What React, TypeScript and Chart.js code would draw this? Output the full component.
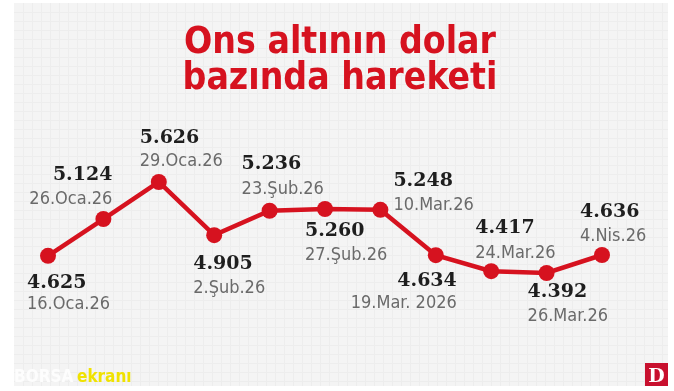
import React, { useEffect, useRef } from "react";
import { Chart, registerables } from "chart.js";

Chart.register(...registerables);

const dates = ["16.Oca.26", "26.Oca.26", "29.Oca.26", "2.Şub.26", "23.Şub.26", "27.Şub.26", "10.Mar.26", "19.Mar. 2026", "24.Mar.26", "26.Mar.26", "4.Nis.26"];
const prices = [4625, 5124, 5626, 4905, 5236, 5260, 5248, 4634, 4417, 4392, 4636];
const priceLabels = ["4.625", "5.124", "5.626", "4.905", "5.236", "5.260", "5.248", "4.634", "4.417", "4.392", "4.636"];
const titleLines = ["Ons altının dolar", "bazında hareketi"];

// label placement relative to each point: [dx, valueDy, dateDy, align]
const labelPlacement: [number, number, number, "left" | "right"][] = [
  [-21, 27, 49, "left"],
  [9, -44, -20, "right"],
  [-19, -44, -21, "left"],
  [-21, 29, 53, "left"],
  [-28, -47, -21, "left"],
  [-20, 22, 46, "left"],
  [13, -29, -5, "left"],
  [21, 26, 48, "right"],
  [-16, -43, -18, "left"],
  [-19, 19, 43, "left"],
  [-22, -43, -19, "left"],
];

const RED = "#d6121f";

const backgroundPlugin = {
  id: "bgGrid",
  beforeDraw(chart: any) {
    const ctx = chart.ctx;
    ctx.save();
    ctx.fillStyle = "#ffffff";
    ctx.fillRect(0, 0, chart.width, chart.height);
    const x0 = 14, y0 = 3, x1 = 668, y1 = 386;
    ctx.fillStyle = "#f4f4f4";
    ctx.fillRect(x0, y0, x1 - x0, y1 - y0);
    ctx.strokeStyle = "#ededed";
    ctx.lineWidth = 1;
    ctx.beginPath();
    for (let x = x0 + 9; x < x1; x += 9) {
      ctx.moveTo(x + 0.5, y0);
      ctx.lineTo(x + 0.5, y1);
    }
    for (let y = y0 + 9; y < y1; y += 9) {
      ctx.moveTo(x0, y + 0.5);
      ctx.lineTo(x1, y + 0.5);
    }
    ctx.stroke();

    // title
    ctx.fillStyle = RED;
    ctx.textAlign = "center";
    ctx.textBaseline = "alphabetic";
    ctx.font = "bold 37px 'DejaVu Sans Condensed', 'DejaVu Sans'";
    ctx.fillText(titleLines[0], 340, 53);
    ctx.fillText(titleLines[1], 340, 89);

    // logos
    ctx.textAlign = "left";
    ctx.font = "bold 17px 'DejaVu Sans Condensed', 'DejaVu Sans'";
    ctx.fillStyle = "#fdfdfd";
    ctx.fillText("BORSA", 14, 382);
    ctx.fillStyle = "#f0e200";
    ctx.fillText("ekranı", 77, 382);
    ctx.fillStyle = "#c8102e";
    ctx.fillRect(645, 363, 23, 23);
    ctx.fillStyle = "#ffffff";
    ctx.textAlign = "center";
    ctx.font = "bold 19px 'DejaVu Serif'";
    ctx.fillText("D", 656.5, 382);
    ctx.restore();
  },
};

const labelPlugin = {
  id: "pointLabels",
  afterDatasetsDraw(chart: any) {
    const ctx = chart.ctx;
    const meta = chart.getDatasetMeta(0);
    ctx.save();
    ctx.textBaseline = "middle";
    meta.data.forEach((pt: any, i: number) => {
      const [dx, vdy, ddy, align] = labelPlacement[i];
      ctx.textAlign = align;
      ctx.fillStyle = "#1e1e1e";
      ctx.font = "bold 19px 'DejaVu Serif'";
      ctx.fillText(priceLabels[i], pt.x + dx, pt.y + vdy);
      ctx.fillStyle = "#6a6a6a";
      ctx.font = "18px 'DejaVu Sans Condensed', 'DejaVu Sans'";
      ctx.fillText(dates[i], pt.x + dx, pt.y + ddy);
    });
    ctx.restore();
  },
};

export default function App() {
  const ref = useRef<HTMLCanvasElement | null>(null);
  useEffect(() => {
    if (!ref.current) return;
    const chart = new Chart(ref.current, {
      type: "line",
      data: {
        labels: dates,
        datasets: [
          {
            data: prices,
            borderColor: RED,
            backgroundColor: RED,
            borderWidth: 4.5,
            pointRadius: 8,
            pointBackgroundColor: RED,
            pointBorderColor: RED,
            pointBorderWidth: 0,
            tension: 0,
          },
        ],
      },
      options: {
        animation: false,
        responsive: false,
        maintainAspectRatio: false,
        layout: { padding: { left: 48, right: 72, top: 154.4, bottom: 89.1 } },
        plugins: {
          legend: { display: false },
          title: { display: false },
          tooltip: { enabled: false },
        },
        scales: {
          x: { type: "category", display: false, offset: false },
          y: { type: "linear", display: false, min: 4000, max: 6000 },
        },
      },
      plugins: [backgroundPlugin, labelPlugin],
    });
    return () => chart.destroy();
  }, []);
  return (
    <div style={{ position: "fixed", left: 0, top: 0, width: 674, height: 391 }}>
      <canvas ref={ref} width={674} height={391} style={{ width: 674, height: 391, display: "block" }} />
    </div>
  );
}
